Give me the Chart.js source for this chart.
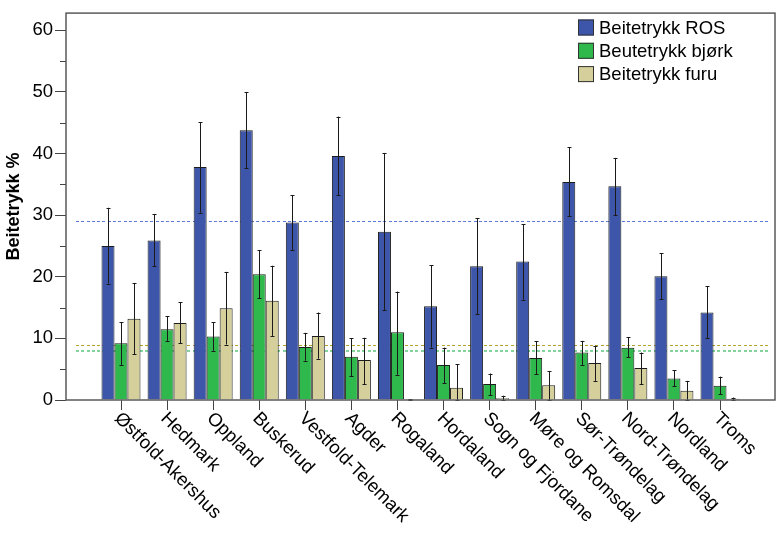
<!DOCTYPE html>
<html>
<head>
<meta charset="utf-8">
<script src="https://cdn.jsdelivr.net/npm/chart.js@4.4.1/dist/chart.umd.min.js"></script>
<style>
  html, body { margin: 0; padding: 0; background: #fff; }
  #wrap { width: 784px; height: 534px; }
</style>
</head>
<body>
<div id="wrap"><canvas id="chart"></canvas></div>
<script>
const regions = ["Østfold-Akershus", "Hedmark", "Oppland", "Buskerud", "Vestfold-Telemark", "Agder",
  "Rogaland", "Hordaland", "Sogn og Fjordane", "Møre og Romsdal", "Sør-Trøndelag", "Nord-Trøndelag",
  "Nordland", "Troms"];

const rosValues = [25.0, 25.9, 37.8, 43.8, 28.8, 39.6, 27.3, 15.2, 21.7, 22.5, 35.4, 34.7, 20.1, 14.2];
const rosLow    = [18.9, 21.7, 30.4, 37.6, 24.3, 33.2, 14.6,  8.5, 13.9, 16.3, 29.8, 30.0, 16.4, 10.0];
const rosHigh   = [31.2, 30.2, 45.1, 50.0, 33.2, 46.0, 40.1, 21.9, 29.5, 28.5, 41.0, 39.3, 23.8, 18.5];

const bjorkValues = [9.2, 11.5, 10.3, 20.4, 8.6, 7.0, 11.0, 5.7, 2.6, 6.8, 7.7, 8.5, 3.5, 2.3];
const bjorkLow    = [5.7,  9.6,  8.0, 16.5, 6.4, 3.9,  4.1, 2.7, 0.8, 4.2, 5.7, 6.9, 2.2, 0.9];
const bjorkHigh   = [12.6, 13.6, 12.6, 24.3, 10.9, 10.0, 17.6, 8.5, 4.3, 9.5, 9.6, 10.2, 4.8, 3.8];

const furuValues = [13.2, 12.5, 14.9, 16.1, 10.4, 6.5, 0.1, 2.0, 0.3, 2.4, 6.0, 5.2, 1.5, 0.2];
const furuLow    = [7.4,  9.2,  9.0, 10.4,  6.7, 2.6, 0.0, 0.0, 0.0, 0.0, 3.1, 2.6, 0.0, 0.0];
const furuHigh   = [19.0, 15.9, 20.8, 21.8, 14.2, 10.1, 0.1, 5.8, 0.7, 4.7, 8.8, 7.7, 3.1, 0.4];

// average lines: ROS, furu, bjørk
const refValues = [29.0, 8.9, 8.0];
const refColors = ["#5a7bd6", "#b0a42a", "#82d49c"];
const refWidths = [1, 1, 2];

const FONT = "Arial, 'Liberation Sans', sans-serif";

const errorBars = [
  { low: rosLow, high: rosHigh },
  { low: bjorkLow, high: bjorkHigh },
  { low: furuLow, high: furuHigh },
];

const spssPlugin = {
  id: "spss",
  afterLayout(chart) {
    // push first and last category away from the frame, like the original
    const xs = chart.scales.x;
    const pad = 55;
    const step = (xs.width - 2 * pad) / (regions.length - 1);
    xs._startValue = -pad / step;
    xs._valueRange = xs.width / step;
  },
  beforeDatasetsDraw(chart) {
    const { ctx, chartArea: a, scales: { y } } = chart;
    ctx.save();
    refValues.forEach((v, i) => {
      const py = Math.round(y.getPixelForValue(v) - refWidths[i] / 2);
      ctx.fillStyle = refColors[i];
      for (let px = a.left + 10; px < a.right - 10; px += 5.3) {
        ctx.fillRect(Math.round(px), py, 3, refWidths[i]);
      }
    });
    ctx.restore();
  },
  afterDatasetsDraw(chart) {
    const { ctx, scales: { y } } = chart;
    ctx.save();
    ctx.strokeStyle = "#1a1a1a";
    ctx.lineWidth = 1;
    errorBars.forEach((eb, d) => {
      const meta = chart.getDatasetMeta(d);
      meta.data.forEach((bar, i) => {
        const x = Math.round(bar.x) + 0.5;
        const y1 = y.getPixelForValue(eb.high[i]);
        const y2 = y.getPixelForValue(eb.low[i]);
        ctx.beginPath();
        ctx.moveTo(x, y1); ctx.lineTo(x, y2);
        ctx.moveTo(x - 2, Math.round(y1) + 0.5); ctx.lineTo(x + 2, Math.round(y1) + 0.5);
        ctx.moveTo(x - 2, Math.round(y2) + 0.5); ctx.lineTo(x + 2, Math.round(y2) + 0.5);
        ctx.stroke();
      });
    });
    ctx.restore();
  },
  afterDraw(chart) {
    const { ctx, chartArea: a, scales: { x, y } } = chart;
    ctx.save();
    // minor ticks on y
    ctx.strokeStyle = "#444";
    ctx.lineWidth = 1;
    for (let v = 5; v < 60; v += 10) {
      const py = Math.round(y.getPixelForValue(v)) + 0.5;
      ctx.beginPath();
      ctx.moveTo(a.left - 6, py);
      ctx.lineTo(a.left, py);
      ctx.stroke();
    }
    // frame
    ctx.strokeStyle = "#5a5a5a";
    ctx.lineWidth = 1.5;
    ctx.strokeRect(a.left, a.top, a.right - a.left, a.bottom - a.top);

    // rotated category labels
    ctx.fillStyle = "#000";
    ctx.font = "18.5px " + FONT;
    ctx.textAlign = "left";
    ctx.textBaseline = "top";
    regions.forEach((lab, i) => {
      const px = x.getPixelForValue(i);
      ctx.save();
      ctx.translate(px + 3, a.bottom + 9);
      ctx.rotate(Math.PI / 4);
      ctx.fillText(lab, 0, 0);
      ctx.restore();
    });

    // legend inside the plot
    ctx.textBaseline = "middle";
    chart.data.datasets.forEach((ds, i) => {
      const top = 19.5 + i * 23.3;
      ctx.fillStyle = ds.backgroundColor;
      ctx.fillRect(578, top, 16, 16);
      ctx.strokeStyle = "#333";
      ctx.lineWidth = 1;
      ctx.strokeRect(578.5, top + 0.5, 15, 15);
      ctx.fillStyle = "#000";
      ctx.fillText(ds.label, 599, top + 9);
    });
    ctx.restore();
  }
};

new Chart(document.getElementById("chart"), {
  type: "bar",
  data: {
    labels: regions,
    datasets: [
      { label: "Beitetrykk ROS", data: rosValues, backgroundColor: "#3d56a9" },
      { label: "Beutetrykk bjørk", data: bjorkValues, backgroundColor: "#2fb84b" },
      { label: "Beitetrykk furu", data: furuValues, backgroundColor: "#d4cf9b" },
    ].map((d) => Object.assign(d, {
      borderColor: "#1c1c1c",
      borderWidth: 1,
      categoryPercentage: 0.846,
      barPercentage: 1,
    })),
  },
  options: {
    responsive: true,
    maintainAspectRatio: false,
    animation: false,
    layout: { padding: { top: 4, right: 9, left: 0, bottom: 0 } },
    plugins: { legend: { display: false }, tooltip: { enabled: false } },
    scales: {
      x: {
        grid: { display: true, drawOnChartArea: false, offset: false, tickLength: 10, color: "#444" },
        border: { display: false },
        ticks: { display: false },
        afterFit(scale) { scale.height = 134; },
      },
      y: {
        min: 0,
        max: 62.8,
        grid: {
          drawOnChartArea: false,
          tickLength: 11,
          tickColor: (c) => (c.tick && c.tick.value % 10 === 0 ? "#444" : "rgba(0,0,0,0)"),
        },
        border: { display: false },
        ticks: {
          stepSize: 5,
          includeBounds: false,
          padding: 2,
          color: "#000",
          font: { family: FONT, size: 18.5 },
          callback: (v) => (v % 10 === 0 ? v : ""),
        },
        title: {
          display: true,
          text: "Beitetrykk %",
          color: "#000",
          font: { family: FONT, size: 18, weight: "bold" },
          padding: { top: 3, bottom: 0 },
        },
        afterFit(scale) { scale.width = 66; },
      },
    },
  },
  plugins: [spssPlugin],
});
</script>
</body>
</html>
